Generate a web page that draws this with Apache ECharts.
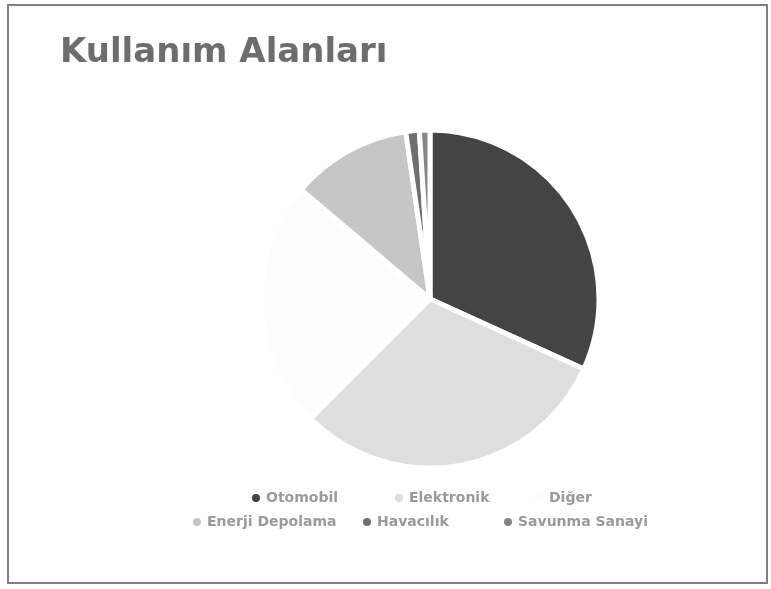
<!DOCTYPE html>
<html>
<head>
<meta charset="utf-8">
<script src="https://cdn.jsdelivr.net/npm/echarts@6/dist/echarts.min.js"></script>
<style>html,body{margin:0;padding:0;background:#fff;}#c{width:771px;height:589px;}</style>
</head>
<body>
<div id="c"></div>
<script>
const titleText = 'Kullanım Alanları';
const categories = ['Otomobil', 'Elektronik', 'Diğer', 'Enerji Depolama', 'Havacılık', 'Savunma Sanayi'];
const values = [31.8, 30.7, 23.7, 11.5, 1.3, 1.0];
const colors = ['#444444', '#dedede', '#fcfcfc', '#c6c6c6', '#6e6e6e', '#858585'];

// legend item placement (icon left x, row centre y)
const legendPos = [[250, 498], [393, 498], [533, 498], [191, 522], [361, 522], [502, 522]];

const chart = echarts.init(document.getElementById('c'), null, {renderer: 'canvas'});
const legends = categories.map((name, i) => ({
  data: [name],
  left: legendPos[i][0],
  top: legendPos[i][1] - 7,
  padding: 0,
  icon: 'circle',
  itemWidth: 10,
  itemHeight: 10,
  selectedMode: false,
  textStyle: {fontFamily: 'DejaVu Sans', fontWeight: 'bold', fontSize: 14, color: '#9a9a9a'}
}));

chart.setOption({
  backgroundColor: '#ffffff',
  animation: false,
  title: {
    text: titleText,
    left: 60,
    top: 36,
    padding: 0,
    textStyle: {fontFamily: 'DejaVu Sans', fontWeight: 'bold', fontSize: 34, color: '#6d6d6d'}
  },
  legend: legends,
  graphic: [{
    type: 'rect',
    shape: {x: 8, y: 5, width: 759, height: 578},
    style: {fill: 'none', stroke: '#7f7f7f', lineWidth: 2},
    silent: true
  }],
  series: [{
    type: 'pie',
    center: [430, 299],
    radius: 169,
    startAngle: 90,
    clockwise: true,
    label: {show: false},
    labelLine: {show: false},
    itemStyle: {borderColor: '#ffffff', borderWidth: 5},
    emphasis: {disabled: true},
    data: categories.map((name, i) => ({name: name, value: values[i], itemStyle: {color: colors[i]}}))
  }]
});
</script>
</body>
</html>
